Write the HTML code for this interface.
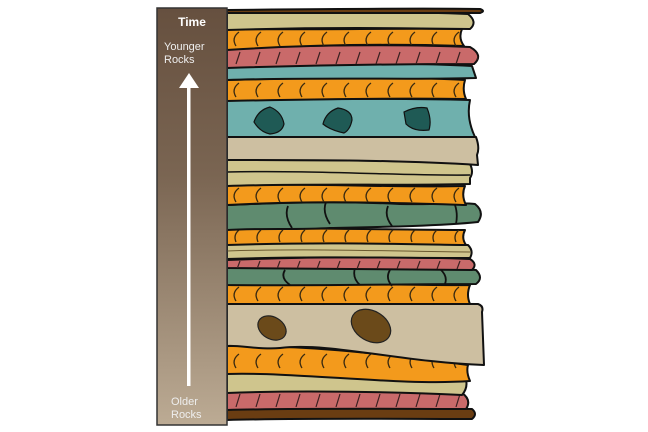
<!DOCTYPE html>
<html><head><style>
html,body{margin:0;padding:0;background:#fff;}
svg{display:block}
</style></head><body>
<svg width="648" height="432" viewBox="0 0 648 432" xmlns="http://www.w3.org/2000/svg">
<defs>
<linearGradient id="tg" x1="0" y1="0" x2="0" y2="1">
<stop offset="0" stop-color="#66503f"/><stop offset="0.4" stop-color="#7a6552"/><stop offset="1" stop-color="#bcab94"/></linearGradient>
<pattern id="a1" width="22" height="60" patternUnits="userSpaceOnUse" x="228" y="30"><path d="M11 2 Q3 8 8 16" fill="none" stroke="#3a2a10" stroke-width="1.3"/></pattern>
<pattern id="a2" width="22" height="60" patternUnits="userSpaceOnUse" x="228" y="81"><path d="M11 2 Q3 8 8 16" fill="none" stroke="#3a2a10" stroke-width="1.3"/></pattern>
<pattern id="a3" width="22" height="60" patternUnits="userSpaceOnUse" x="228" y="186"><path d="M11 2 Q3 8 8 16" fill="none" stroke="#3a2a10" stroke-width="1.3"/></pattern>
<pattern id="a4" width="22" height="60" patternUnits="userSpaceOnUse" x="228" y="229"><path d="M11 1 Q5 6 8 13" fill="none" stroke="#3a2a10" stroke-width="1.3"/></pattern>
<pattern id="a5" width="22" height="60" patternUnits="userSpaceOnUse" x="228" y="285"><path d="M11 2 Q3 8 8 16" fill="none" stroke="#3a2a10" stroke-width="1.3"/></pattern>
<pattern id="a6" width="22" height="60" patternUnits="userSpaceOnUse" x="228" y="352"><path d="M11 2 Q3 8 8 16" fill="none" stroke="#3a2a10" stroke-width="1.3"/></pattern>
<pattern id="s1" width="20" height="60" patternUnits="userSpaceOnUse" x="228" y="48"><path d="M12 4 L8 16" fill="none" stroke="#3a2020" stroke-width="1.2"/></pattern>
<pattern id="s2" width="20" height="60" patternUnits="userSpaceOnUse" x="228" y="258"><path d="M12 3 L9 11" fill="none" stroke="#3a2020" stroke-width="1.2"/></pattern>
<pattern id="s3" width="20" height="60" patternUnits="userSpaceOnUse" x="228" y="391"><path d="M12 3 L8 16" fill="none" stroke="#3a2020" stroke-width="1.2"/></pattern>
</defs>
<g stroke="#111" stroke-width="2" stroke-linejoin="round">
<path d="M227 409 C330 407 420 408 472 409 Q478 414 472 419 C400 419 300 418 227 420 Z" fill="#6a3d12"/>
<path d="M227 392 C320 389 420 391 462 393 Q472 400 466 409 C400 409 300 408 227 410 Z" fill="#c96a6a"/>
<path d="M227 392 C320 389 420 391 462 393 Q472 400 466 409 C400 409 300 408 227 410 Z" fill="url(#s3)" stroke="none"/>
<path d="M227 372 C320 372 420 386 466 380 Q468 388 462 395 C400 392 300 390 227 393 Z" fill="#cfc58d"/>
<path d="M227 346 C300 345 370 352 468 365 Q466 372 470 381 C400 386 300 372 227 374 Z" fill="#f39a1c"/>
<path d="M227 346 C300 345 370 352 468 365 Q466 372 470 381 C400 386 300 372 227 374 Z" fill="url(#a6)" stroke="none"/>
<path d="M227 303 L478 304 Q484 306 482 312 L484 365 C400 362 330 342 280 348 C260 350 240 345 227 346 Z" fill="#cdbfa1"/>
<path d="M227 284 C320 282 420 286 470 285 Q466 295 470 304 L227 304 Z" fill="#f39a1c"/>
<path d="M227 284 C320 282 420 286 470 285 Q466 295 470 304 L227 304 Z" fill="url(#a5)" stroke="none"/>
<path d="M227 266 C320 268 420 266 476 270 Q484 278 476 284 C400 284 320 286 227 285 Z" fill="#5f8b6f"/>
<path d="M285 270 Q280 278 290 285 M355 268 Q352 278 360 285 M390 270 Q385 278 392 286 M440 269 Q448 276 445 284" fill="none" stroke-width="1.8"/>
<path d="M227 260 C320 256 420 257 470 259 Q478 264 472 270 C400 269 320 268 227 268 Z" fill="#c96a6a"/>
<path d="M227 260 C320 256 420 257 470 259 Q478 264 472 270 C400 269 320 268 227 268 Z" fill="url(#s2)" stroke="none"/>
<path d="M227 243 C320 240 420 244 468 245 Q474 251 470 258 C400 258 320 256 227 259 Z" fill="#cfc58d"/>
<path d="M227 251 C320 248 420 252 470 252" fill="none" stroke-width="1" stroke="#6b5a30"/>
<path d="M227 228 C320 228 420 230 465 230 Q461 238 466 245 C400 244 320 242 227 245 Z" fill="#f39a1c"/>
<path d="M227 228 C320 228 420 230 465 230 Q461 238 466 245 C400 244 320 242 227 245 Z" fill="url(#a4)" stroke="none"/>
<path d="M227 205 C260 204 320 200 400 204 C440 205 460 202 475 204 Q485 212 478 222 C440 226 380 227 330 228 C300 230 260 228 227 230 Z" fill="#5f8b6f"/>
<path d="M288 206 Q284 216 292 228 M326 202 Q322 212 330 224 M388 206 Q384 216 392 226 M455 205 Q458 214 456 224" fill="none" stroke-width="1.8"/>
<path d="M227 185 C320 183 400 188 465 186 Q461 195 466 205 C400 203 320 200 227 205 Z" fill="#f39a1c"/>
<path d="M227 185 C320 183 400 188 465 186 Q461 195 466 205 C400 203 320 200 227 205 Z" fill="url(#a3)" stroke="none"/>
<path d="M227 160 C320 160 400 160 470 164 Q474 172 470 178 L470 184 C400 186 320 183 227 186 Z" fill="#cfc58d"/>
<path d="M227 172 C320 170 400 176 470 175" fill="none" stroke-width="1.5"/>
<path d="M227 137 L476 137 Q480 148 477 155 L478 165 C400 160 320 160 227 160 Z" fill="#cdbfa1"/>
<path d="M227 100 C320 99 400 98 470 100 Q466 118 475 137 L227 137 Z" fill="#6fb0ad"/>
<path d="M227 80 C300 78 400 76 465 80 Q462 90 466 99 C400 98 320 99 227 101 Z" fill="#f39a1c"/>
<path d="M227 80 C300 78 400 76 465 80 Q462 90 466 99 C400 98 320 99 227 101 Z" fill="url(#a2)" stroke="none"/>
<path d="M227 64 C320 64 400 62 472 66 Q474 72 476 78 C420 80 320 77 227 80 Z" fill="#6fb0ad"/>
<path d="M227 48 C320 45 400 44 470 47 Q484 55 474 64 C400 64 320 65 227 68 Z" fill="#c96a6a"/>
<path d="M227 48 C320 45 400 44 470 47 Q484 55 474 64 C400 64 320 65 227 68 Z" fill="url(#s1)" stroke="none"/>
<path d="M227 29 C320 30 400 28 462 29 Q458 38 464 46 C400 44 320 44 227 50 Z" fill="#f39a1c"/>
<path d="M227 29 C320 30 400 28 462 29 Q458 38 464 46 C400 44 320 44 227 50 Z" fill="url(#a1)" stroke="none"/>
<path d="M227 12 C320 10 420 12 468 14 Q478 22 470 29 C400 28 320 27 227 30 Z" fill="#cfc58d"/>
<path d="M227 10 C320 9 420 8 480 9 Q486 11 480 13 C400 13 320 13 227 13 Z" fill="#6a3d12"/>
</g>
<g stroke="#111" stroke-width="1.2" fill="#1f5a55">
<path d="M254 122 Q258 110 270 107 Q282 112 284 124 Q282 133 270 134 Q260 132 254 122 Z"/>
<path d="M323 124 Q326 112 338 108 Q352 110 352 120 Q350 130 344 133 Q330 130 323 124 Z"/>
<path d="M404 112 Q416 106 427 108 Q432 120 429 130 Q414 132 406 124 Z"/>
</g>
<g stroke="#222" stroke-width="1.2" fill="#6b4a1a">
<ellipse cx="272" cy="328" rx="15" ry="11" transform="rotate(30 272 328)"/>
<ellipse cx="371" cy="326" rx="21" ry="15" transform="rotate(30 371 326)"/>
</g>
<rect x="157" y="8" width="70" height="417" fill="url(#tg)" stroke="#333" stroke-width="1.5"/>
<g font-family="Liberation Sans, sans-serif" fill="#fff">
<text x="192" y="26" font-size="12" font-weight="bold" text-anchor="middle">Time</text>
<text x="164" y="50" font-size="11" fill="#eee">Younger</text>
<text x="164" y="63" font-size="11" fill="#eee">Rocks</text>
<text x="171" y="405" font-size="11" fill="#eee">Older</text>
<text x="171" y="418" font-size="11" fill="#eee">Rocks</text>
</g>
<rect x="187" y="86" width="3.5" height="300" fill="#fff"/>
<polygon points="179,88 199,88 189,73" fill="#fff"/>
</svg>
</body></html>
